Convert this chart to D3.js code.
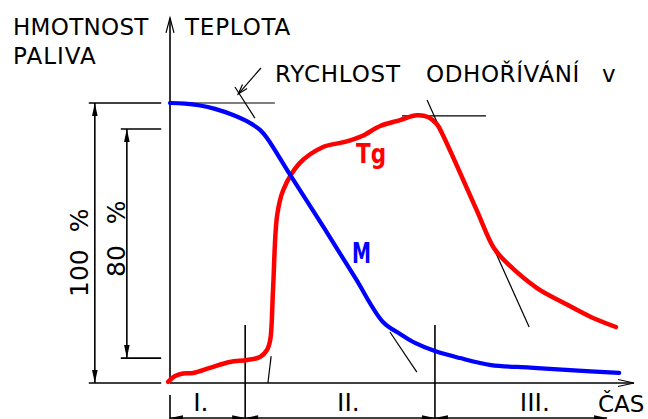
<!doctype html>
<html lang="cs">
<head>
<meta charset="utf-8">
<script src="https://d3js.org/d3.v7.min.js"></script>
<title>Hoření paliva</title>
<style>
  body { margin: 0; background: #fff; }
  svg { display: block; }
  text { font-family: "DejaVu Sans", "Liberation Sans", sans-serif; fill: #000; }
  .axis { stroke: #000; stroke-width: 1.6; fill: none; }
  .thin { stroke: #000; stroke-width: 1.2; fill: none; }
</style>
</head>
<body>
<svg id="chart" width="648" height="419"></svg>
<script>
// cas t: 0..100 (konec osy), hodnota v: 0..100 % hmotnosti
const massCurve = [[0,100],[3.2,99.8],[6.5,99.1],[9.7,97.9],[13.6,95.7],[17.2,92.9],[19.4,90.4],
  [20.9,87.5],[25.9,74.3],[33.2,55.4],[39.9,37.6],[45.9,21.8],[49.6,17.5],[52.8,14.3],[57.1,11.4],
  [62.5,8.9],[69.2,6.4],[77.6,5.5],[86.2,4.6],[96.8,3.6]];
const tempCurve = [[-0.4,0.4],[1.1,2.5],[2.8,3.4],[5.0,3.6],[8.6,5.4],[12.9,7.5],[16.6,8.2],[19.4,9.3],
  [20.9,11.8],[21.6,15.4],[22.2,33.2],[23.1,60],[24.4,68.9],[28.0,78.6],[33.0,84.3],[37.7,86.1],
  [41.4,88.2],[45.3,91.8],[49.6,93.9],[53.2,95.6],[55.6,95.0],[57.5,92.5],[58.8,88.6],[66.0,62.1],
  [69.8,48.2],[72.6,42.9],[79.1,33.9],[84.9,28.6],[90.7,23.6],[96.1,20]];
const tangents = [
  [[0.65,100],[22.6,100]],
  [[14.0,105.7],[18.3,94.6]],
  [[47.4,18.2],[53.2,3.9]],
  [[21.8,9.6],[21.1,0]],
  [[50,95.4],[68.1,95.4]],
  [[55.4,101.1],[77.4,20]]
];
const leader = [[19.6,112.5],[14.7,103.2]];
const levels100 = [0, 100];
const levels80 = [8.9, 90.7];
const phaseBounds = [0, 16.2, 57.1, 94.2];
const phaseLabels = ['I.', 'II.', 'III.'];
const phaseLabelT = [5.0, 36.0, 75.4];

const svg = d3.select('#chart');
const x = d3.scaleLinear().domain([0, 100]).range([170, 634]);
const y = d3.scaleLinear().domain([0, 100]).range([383, 103]);

function head(tx, ty, dx, dy, len, half) {
  const n = Math.hypot(dx, dy); dx /= n; dy /= n;
  const bx = tx - dx*len, by = ty - dy*len;
  return [[tx,ty],[bx - dy*half, by + dx*half],[bx + dy*half, by - dx*half]];
}
function filledHead(tx, ty, dx, dy) {
  svg.append('polygon').attr('points', head(tx, ty, dx, dy, 13, 2.8).join(' ')).attr('fill', '#000');
}
function openHead(tx, ty, dx, dy, len, half) {
  const p = head(tx, ty, dx, dy, len, half);
  svg.append('path').attr('class', 'thin')
    .attr('d', `M${p[1]}L${p[0]}L${p[2]}`);
}

// osy
svg.append('line').attr('class','axis').attr('x1',x(0)).attr('x2',x(0)).attr('y1',y(0)).attr('y2',y(130.4));
openHead(x(0), y(130.4), 0, -1, 15, 4);
svg.append('line').attr('class','axis').attr('x1',x(0)).attr('x2',x(100)).attr('y1',y(0)).attr('y2',y(0));
openHead(x(100), y(0), 1, 0, 16, 3.5);

// kotovani 100 % a 80 %
levels100.forEach(v => svg.append('line').attr('class','axis')
  .attr('x1', x(-17.5)).attr('x2', x(-1.9)).attr('y1', y(v)).attr('y2', y(v)));
levels80.forEach(v => svg.append('line').attr('class','axis')
  .attr('x1', x(-10.6)).attr('x2', x(-1.9)).attr('y1', y(v)).attr('y2', y(v)));
[[-16.2, levels100], [-9.3, levels80]].forEach(([t, lv]) => {
  svg.append('line').attr('class','axis').attr('x1',x(t)).attr('x2',x(t)).attr('y1',y(lv[0])).attr('y2',y(lv[1]));
  filledHead(x(t), y(lv[1]), 0, -1);
  filledHead(x(t), y(lv[0]), 0, 1);
});
svg.append('text').attr('transform', `translate(88,297) rotate(-90)`)
  .attr('font-size', 25).attr('word-spacing', 9).text('100 %');
svg.append('text').attr('transform', `translate(125,277) rotate(-90)`)
  .attr('font-size', 25).attr('word-spacing', 13).text('80 %');

// faze
phaseBounds.slice(1, 3).forEach(t => svg.append('line').attr('class','axis')
  .attr('x1', x(t)).attr('x2', x(t)).attr('y1', y(20.7)).attr('y2', y(-13)));
svg.append('line').attr('class','axis').attr('x1',x(0)).attr('x2',x(0)).attr('y1',y(-4.3)).attr('y2',y(-13));
const yd = y(-12.5);
svg.append('line').attr('class','axis').attr('x1',x(0)).attr('x2',x(phaseBounds[3])).attr('y1',yd).attr('y2',yd);
filledHead(x(0), yd, -1, 0);
filledHead(x(phaseBounds[1]), yd, 1, 0);
filledHead(x(phaseBounds[1]), yd, -1, 0);
filledHead(x(phaseBounds[2]), yd, 1, 0);
filledHead(x(phaseBounds[2]), yd, -1, 0);
filledHead(x(phaseBounds[3]), yd, 1, 0);
phaseLabels.forEach((s, i) => svg.append('text').attr('x', x(phaseLabelT[i])).attr('y', 411)
  .attr('font-size', 25).text(s));

// tecny
tangents.forEach(seg => svg.append('line').attr('class','thin')
  .attr('x1', x(seg[0][0])).attr('y1', y(seg[0][1])).attr('x2', x(seg[1][0])).attr('y2', y(seg[1][1])));
svg.append('line').attr('class','thin')
  .attr('x1', x(leader[0][0])).attr('y1', y(leader[0][1])).attr('x2', x(leader[1][0])).attr('y2', y(leader[1][1]));
openHead(x(leader[1][0]), y(leader[1][1]), x(leader[1][0]) - x(leader[0][0]), y(leader[1][1]) - y(leader[0][1]), 10, 3);

// krivky
const line = d3.line().x(d => x(d[0])).y(d => y(d[1])).curve(d3.curveCatmullRom.alpha(0.5));
svg.append('path').attr('d', line(tempCurve)).attr('fill','none').attr('stroke','#ff0000')
  .attr('stroke-width', 4.5).attr('stroke-linecap','round').attr('stroke-linejoin','round');
svg.append('path').attr('d', line(massCurve)).attr('fill','none').attr('stroke','#0000ff')
  .attr('stroke-width', 4.2).attr('stroke-linecap','round').attr('stroke-linejoin','round');

// popisky
const lab = (s, px, py, fs) => svg.append('text').attr('x', px).attr('y', py).attr('font-size', fs).text(s);
lab('HMOTNOST', 13, 35, 23).attr('letter-spacing', 0.3);
lab('TEPLOTA', 185, 35, 23).attr('letter-spacing', 0.8);
lab('PALIVA', 13, 64, 23).attr('letter-spacing', 1);
lab('RYCHLOST', 275, 82, 23).attr('letter-spacing', 0.8);
lab('ODHOŘÍVÁNÍ', 426, 82, 23).attr('letter-spacing', 0.6);
lab('v', 602, 82, 23);
lab('ČAS', 598, 412, 23);
lab('Tg', 356, 163, 27).attr('font-weight','bold').style('fill','#ff0000')
  .attr('textLength', 30).attr('lengthAdjust', 'spacingAndGlyphs');
lab('M', 352, 263, 28).attr('font-weight','bold').style('fill','#0000ff')
  .attr('textLength', 19).attr('lengthAdjust', 'spacingAndGlyphs');
</script>
</body>
</html>
